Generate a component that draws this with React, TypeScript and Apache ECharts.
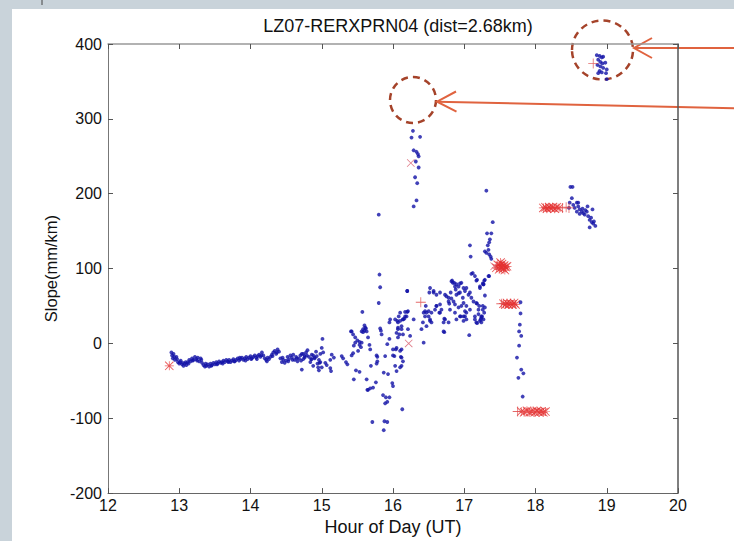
import React, { useEffect, useRef } from "react";
import * as echarts from "echarts";

// ---- data (hour of day, slope mm/km) ----
const titleText = "LZ07-RERXPRN04 (dist=2.68km)";
const xTicks = [12, 13, 14, 15, 16, 17, 18, 19, 20];
const yTicks = [-200, -100, 0, 100, 200, 300, 400];

const bandPoints: [number, number][] = [
  [12.89, -12], [12.9, -16], [12.91, -20], [12.92, -14], [12.94, -22], [12.96, -18], [12.98, -25], [13.0, -27],
  [13.02, -23], [13.04, -28], [13.06, -30], [13.08, -27], [13.1, -29], [13.12, -25], [13.14, -22], [13.16, -24],
  [13.18, -20], [13.2, -22], [13.22, -18], [13.24, -21], [13.26, -19], [13.28, -24], [13.3, -20], [13.32, -26],
  [13.34, -29], [13.36, -31], [13.38, -30], [13.4, -28], [13.42, -31], [13.44, -27], [13.46, -29], [13.48, -26],
  [13.5, -28], [13.52, -25], [13.54, -27], [13.56, -24], [13.58, -26], [13.6, -25], [13.62, -23], [13.64, -25],
  [13.66, -22], [13.68, -24], [13.7, -22], [13.72, -25], [13.74, -23], [13.76, -21], [13.78, -24], [13.8, -22],
  [13.82, -20], [13.84, -23], [13.86, -21], [13.88, -19], [13.9, -22], [13.92, -20], [13.94, -18], [13.96, -21],
  [13.98, -19], [14.0, -17], [14.02, -20], [14.04, -18], [14.06, -16], [14.08, -19], [14.1, -17], [14.12, -15],
  [14.14, -18], [14.16, -12], [14.18, -16], [14.2, -20], [14.22, -22], [14.24, -19], [14.26, -21], [14.28, -18],
  [14.3, -15], [14.32, -12], [14.34, -10], [14.36, -14], [14.38, -8], [14.4, -11], [14.42, -20], [14.44, -25],
  [14.46, -22], [14.48, -26], [14.5, -23], [14.52, -18], [14.54, -21], [14.56, -16], [14.58, -19], [14.6, -15],
  [14.62, -22], [14.64, -18], [14.66, -24], [14.68, -20], [14.7, -16], [14.72, -35], [14.74, -14], [14.76, -19],
  [14.78, -12], [14.8, -9], [14.82, -18], [14.84, -25], [14.86, -15], [14.88, -30], [14.9, -20], [14.92, -11],
  [14.94, -27], [14.96, -22], [14.98, -14], [15.0, -32],
  [12.93, -18], [12.97, -21], [13.01, -25], [13.05, -26], [13.09, -25], [13.13, -27], [13.19, -23], [13.25, -23],
  [13.31, -22], [13.37, -27], [13.45, -30], [13.53, -28], [13.61, -27], [13.69, -25], [13.77, -24], [13.85, -19],
  [13.93, -23], [14.01, -21], [14.09, -21], [14.15, -16], [14.23, -24], [14.31, -17], [14.37, -12], [14.45, -19],
  [14.53, -24], [14.59, -22], [14.65, -20], [14.71, -23], [14.79, -16], [14.85, -21], [14.93, -17], [14.97, -26]
];

const scatterPoints: [number, number][] = [
  [15.8, 172], [15.81, 92], [15.82, 75], [15.8, 54], [16.2, 70], [15.57, 42], [16.2, 42], [16.08, 36], [16.16, 33],
  [16.06, 30], [15.6, 24], [15.6, 17], [15.62, 20], [15.58, 15], [15.41, 16], [15.01, 6], [15.83, 17], [15.65, 8],
  [15.5, 4], [15.53, 2], [15.56, 1], [15.95, 6], [16.07, 19], [16.09, 12], [15.67, -2], [15.68, -8], [15.92, -1],
  [16.04, -8], [16.12, -8], [16.11, -18], [16.0, -16], [16.02, -17], [15.77, -16], [15.78, -18], [15.78, -24],
  [15.89, -17], [16.12, -30], [15.69, -30], [15.77, -27], [15.87, -39], [15.93, -41], [15.76, -52], [15.63, -48],
  [15.68, -60], [15.65, -62], [15.45, -48], [15.48, -36], [15.53, -38], [15.34, -25], [15.36, -28], [15.42, -16],
  [15.44, -13], [15.51, -10], [15.55, -5], [15.53, -2], [15.47, 1], [15.45, -3], [15.28, -17], [15.3, -20],
  [15.17, -19], [15.14, -15], [15.12, -22], [15.13, -37], [15.12, -33], [15.07, -29], [15.05, -26], [15.0, -6],
  [15.02, -12], [14.95, -32], [14.96, -36], [14.98, -25], [14.88, -16], [14.9, -19], [14.86, -21], [14.74, -21],
  [14.76, -17], [14.72, -14], [15.86, -69], [15.9, -72], [15.89, -80], [15.92, -78], [15.95, -72], [15.99, -53],
  [16.0, -57], [16.13, -88], [15.71, -105], [15.88, -104], [15.92, -105], [15.87, -116], [15.72, -59], [15.64, -62],
  [15.61, 21], [15.58, 19], [15.56, 16], [15.63, 16], [15.42, 16], [15.44, 12], [15.47, 8], [15.82, 20], [15.84, 12],
  [16.21, 43], [16.17, 36], [16.14, 32], [16.1, 30], [16.07, 28], [16.12, 19], [16.14, 12], [16.29, 32], [16.21, 19],
  [16.24, 10], [15.96, 32], [15.95, 28], [16.1, 41], [16.17, 42], [16.19, 36], [16.14, 32], [16.12, 23], [16.07, 21],
  [16.05, 14], [16.07, 8], [16.03, 32], [16.43, 1], [16.0, -8], [16.05, -6], [16.1, -10], [16.12, -19], [16.14, -24],
  [16.1, -32], [16.03, -30], [16.05, -37]
];

const spikePoints: [number, number][] = [
  [16.28, 284], [16.26, 275], [16.38, 276], [16.29, 258], [16.33, 256], [16.35, 253], [16.36, 250], [16.32, 243],
  [16.36, 235], [16.31, 222], [16.34, 214], [16.33, 191], [16.29, 183]
];

const risePoints: [number, number][] = [
  [16.83, 84], [16.84, 81], [16.87, 76], [16.94, 80], [16.92, 76], [16.99, 74], [17.01, 70], [16.94, 68], [16.89, 65],
  [16.52, 74], [16.51, 68], [16.57, 68], [16.61, 65], [16.66, 68], [16.73, 65], [16.78, 61], [16.82, 60], [16.85, 56],
  [16.79, 53], [17.06, 65], [17.1, 61], [17.13, 56], [17.18, 53], [17.21, 50], [17.26, 45], [17.29, 48], [16.46, 50],
  [16.5, 43], [16.54, 41], [16.59, 45], [16.61, 50], [16.66, 52], [16.68, 45], [16.65, 41], [16.87, 52], [16.92, 48],
  [16.96, 50], [17.01, 43], [17.03, 41], [16.99, 36], [16.95, 36], [17.15, 36], [17.2, 39], [17.24, 34], [17.22, 30],
  [17.18, 27], [17.15, 32], [16.43, 41], [16.45, 36], [16.42, 28], [16.47, 23], [16.52, 30], [16.72, 33], [16.71, 28],
  [16.72, 15], [17.07, 11], [16.57, 70], [16.45, 43], [16.47, 41], [16.61, 50], [16.75, 63], [16.78, 56], [16.81, 68],
  [16.82, 83], [16.86, 81], [16.89, 79], [16.96, 81], [17.03, 74], [17.08, 68], [16.88, 72], [16.92, 67], [16.98, 61],
  [16.99, 54], [17.03, 50], [17.08, 45], [17.17, 54], [17.2, 45], [17.24, 36], [17.27, 32], [17.17, 28], [17.01, 36],
  [17.03, 32], [16.99, 30], [16.71, 16], [16.5, 36], [16.52, 32], [16.54, 28], [16.66, 41], [16.73, 32], [16.78, 28],
  [16.8, 45], [16.87, 41], [16.94, 36], [16.89, 32], [17.12, 94], [17.15, 90], [17.17, 84], [17.28, 84], [17.27, 79],
  [17.22, 74], [17.1, 93], [17.18, 85], [17.34, 90], [17.29, 85], [17.26, 80], [17.22, 76], [17.08, 131], [17.09, 116],
  [16.4, 19], [16.2, 70], [17.31, 204], [17.4, 162], [17.32, 147], [17.38, 147], [17.36, 139], [17.35, 135],
  [17.33, 131], [17.34, 125], [17.29, 123], [17.31, 121], [17.35, 119], [17.37, 116], [17.38, 113], [17.35, 90],
  [17.27, 79], [17.29, 64], [17.26, 50], [17.28, 41], [17.25, 36], [17.23, 32], [17.24, 28]
];

const fallPoints: [number, number][] = [
  [17.79, 55], [17.79, 40], [17.78, 25], [17.77, 16], [17.8, 10], [17.77, -3], [17.74, -19], [17.8, -35], [17.83, -40],
  [17.76, -46], [17.82, -71]
];

const plateauPoints: [number, number][] = [
  [18.49, 209], [18.52, 209], [18.51, 194], [18.48, 188], [18.47, 181], [18.53, 185], [18.58, 188], [18.55, 181],
  [18.6, 183], [18.62, 179], [18.58, 176], [18.65, 176], [18.67, 174], [18.69, 172], [18.72, 176], [18.73, 183],
  [18.8, 179], [18.74, 170], [18.76, 165], [18.79, 162], [18.81, 160], [18.84, 157], [18.76, 155], [18.62, 173],
  [18.6, 188], [18.7, 178], [18.66, 180], [18.78, 168], [18.82, 163]
];

const peakPoints: [number, number][] = [
  [18.86, 385], [18.9, 384], [18.93, 382], [18.95, 383], [18.88, 379], [18.91, 376], [18.94, 374], [18.98, 375],
  [18.87, 372], [18.91, 370], [18.95, 368], [18.9, 364], [18.93, 362], [19.0, 366], [18.99, 361], [18.88, 361],
  [19.0, 353]
];

const redStars: [number, number][] = [
  [12.86, -30],
  [17.45, 101], [17.47, 105], [17.49, 99], [17.5, 104], [17.52, 101], [17.53, 106], [17.55, 100], [17.56, 104],
  [17.58, 102], [17.6, 103], [17.51, 108], [17.57, 98],
  [17.55, 53], [17.58, 52], [17.6, 54], [17.62, 52], [17.65, 53], [17.68, 52], [17.7, 54], [17.72, 52],
  [17.8, -91], [17.84, -92], [17.88, -90], [17.92, -92], [17.95, -91], [17.99, -92], [18.02, -90], [18.05, -92],
  [18.08, -91], [18.11, -92], [18.14, -91],
  [18.11, 181], [18.14, 182], [18.16, 180], [18.19, 182], [18.21, 181], [18.24, 182], [18.27, 180], [18.3, 182],
  [18.33, 181]
];

const redCrosses: [number, number][] = [
  [16.25, 241], [16.22, 0], [17.42, 103]
];

const redPluses: [number, number][] = [
  [16.39, 55], [17.52, 53], [17.75, -91], [18.38, 181], [18.43, 182], [18.47, 181], [18.81, 374]
];

const STAR = "path://M4.6,0H5.4V10H4.6Z M0,4.6H10V5.4H0Z M0.7,0L10,9.3L9.3,10L0,0.7Z M9.3,0L10,0.7L0.7,10L0,9.3Z";
const CROSS = "path://M0.7,0L10,9.3L9.3,10L0,0.7Z M9.3,0L10,0.7L0.7,10L0,9.3Z";
const PLUS = "path://M4.6,0H5.4V10H4.6Z M0,4.6H10V5.4H0Z";

const FONT = "'Liberation Sans', Arial, sans-serif";

export default function App() {
  const ref = useRef<HTMLDivElement>(null);
  useEffect(() => {
    if (!ref.current) return;
    const chart = echarts.init(ref.current, undefined, { renderer: "svg" });
    const blue = "#1212a6";
    const red = "#e33030";
    const blueData = [...bandPoints, ...scatterPoints, ...spikePoints, ...risePoints, ...fallPoints, ...plateauPoints, ...peakPoints];
    const axisCommon = {
      type: "value" as const,
      splitLine: { show: false },
      axisTick: { inside: true, length: 5, lineStyle: { color: "#555" } },
    };
    chart.setOption({
      animation: false,
      backgroundColor: "#ffffff",
      title: {
        text: titleText,
        left: 393,
        textAlign: "center",
        top: 12,
        textStyle: { fontFamily: FONT, fontSize: 18, fontWeight: "normal", color: "#111" },
      },
      grid: { left: 108, right: 56, top: 44, bottom: 47 },
      xAxis: [
        {
          ...axisCommon,
          min: xTicks[0],
          max: xTicks[xTicks.length - 1],
          interval: 1,
          position: "bottom",
          name: "Hour of Day (UT)",
          nameLocation: "middle",
          nameGap: 24,
          nameTextStyle: { fontFamily: FONT, fontSize: 18, color: "#111" },
          axisLine: { onZero: false, lineStyle: { color: "#666", width: 1 } },
          axisLabel: { fontFamily: FONT, fontSize: 16, color: "#111", margin: 4 },
        },
        {
          ...axisCommon,
          min: xTicks[0],
          max: xTicks[xTicks.length - 1],
          interval: 1,
          position: "top",
          axisLine: { onZero: false, lineStyle: { color: "#999", width: 1.5 } },
          axisLabel: { show: false },
        },
      ],
      yAxis: [
        {
          ...axisCommon,
          min: yTicks[0],
          max: yTicks[yTicks.length - 1],
          interval: 100,
          position: "left",
          name: "Slope(mm/km)",
          nameLocation: "middle",
          nameGap: 45,
          nameTextStyle: { fontFamily: FONT, fontSize: 16.5, color: "#111" },
          axisLine: { onZero: false, lineStyle: { color: "#777", width: 1 } },
          axisLabel: { fontFamily: FONT, fontSize: 16, color: "#111", margin: 6 },
        },
        {
          ...axisCommon,
          min: yTicks[0],
          max: yTicks[yTicks.length - 1],
          interval: 100,
          position: "right",
          axisLine: { onZero: false, lineStyle: { color: "#555", width: 1.5 } },
          axisLabel: { show: false },
        },
      ],
      series: [
        {
          type: "scatter",
          data: blueData,
          symbol: "circle",
          symbolSize: 3.8,
          itemStyle: { color: blue },
          xAxisIndex: 0,
          yAxisIndex: 0,
        },
        {
          type: "scatter",
          data: redStars,
          symbol: STAR,
          symbolSize: 9,
          itemStyle: { color: red },
        },
        {
          type: "scatter",
          data: redCrosses,
          symbol: CROSS,
          symbolSize: 8,
          itemStyle: { color: "#d85a6a" },
        },
        {
          type: "scatter",
          data: redPluses,
          symbol: PLUS,
          symbolSize: 10,
          itemStyle: { color: "#dd4444" },
        },
      ],
      graphic: [
        { type: "rect", z: -1, shape: { x: 0, y: 0, width: 734, height: 9 }, style: { fill: "#c9d3da" } },
        { type: "rect", z: -1, shape: { x: 0, y: 0, width: 12, height: 541 }, style: { fill: "#c9d3da" } },
        { type: "line", shape: { x1: 42, y1: 0, x2: 42, y2: 5 }, style: { stroke: "#444", lineWidth: 1 } },
        {
          type: "circle",
          shape: { cx: 413, cy: 100, r: 23 },
          style: { fill: "none", stroke: "#a5432a", lineWidth: 2.5, lineDash: [7, 5] },
        },
        {
          type: "ellipse",
          shape: { cx: 602.5, cy: 50, rx: 30.5, ry: 29.5 },
          style: { fill: "none", stroke: "#a5432a", lineWidth: 2.5, lineDash: [7, 5] },
        },
        { type: "line", shape: { x1: 634, y1: 48, x2: 734, y2: 48 }, style: { stroke: "#e0633f", lineWidth: 2 } },
        {
          type: "polyline",
          shape: { points: [[652, 38], [634, 48], [652, 58]] },
          style: { fill: "none", stroke: "#e0633f", lineWidth: 2 },
        },
        { type: "line", shape: { x1: 437, y1: 101.7, x2: 734, y2: 108.3 }, style: { stroke: "#e0633f", lineWidth: 2 } },
        {
          type: "polyline",
          shape: { points: [[456, 91.5], [437, 101.7], [456.5, 111.7]] },
          style: { fill: "none", stroke: "#e0633f", lineWidth: 2 },
        },
      ],
    });
    return () => chart.dispose();
  }, []);
  return (
    <div
      ref={ref}
      style={{ position: "fixed", left: 0, top: 0, width: 734, height: 541 }}
    />
  );
}
